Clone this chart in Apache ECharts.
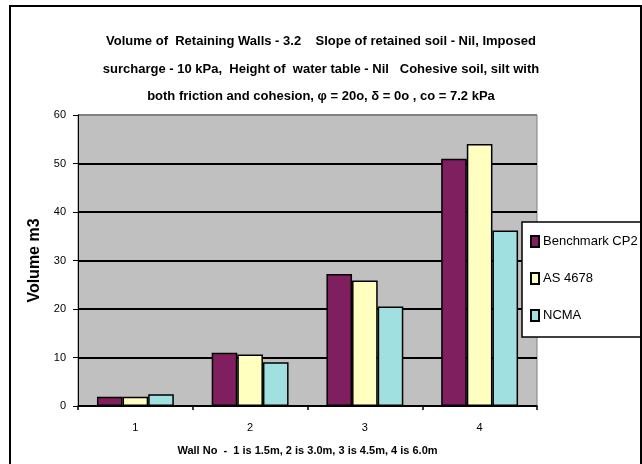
<!DOCTYPE html>
<html>
<head>
<meta charset="utf-8">
<script src="https://cdn.jsdelivr.net/npm/echarts@6/dist/echarts.min.js"></script>
<style>
html,body{margin:0;padding:0;background:#fff;}
#c{width:642px;height:464px;}
</style>
</head>
<body>
<div id="c"></div>
<script>
var categories = ['1', '2', '3', '4'];
var seriesNames = ['Benchmark CP2', 'AS 4678', 'NCMA'];
var benchmarkCP2 = [1.9, 11.0, 27.2, 51.0];
var as4678 = [1.9, 10.6, 25.9, 54.0];
var ncma = [2.4, 9.0, 20.5, 36.2];
var yTicks = { min: 0, max: 60, interval: 10 };
var titleText = 'Volume of  Retaining Walls - 3.2    Slope of retained soil - Nil, Imposed\nsurcharge - 10 kPa,  Height of  water table - Nil   Cohesive soil, silt with\nboth friction and cohesion, \u03c6 = 20o, \u03b4 = 0o , co = 7.2 kPa';
var xName = 'Wall No  -  1 is 1.5m, 2 is 3.0m, 3 is 4.5m, 4 is 6.0m';
var yName = 'Volume m3';

var font = '"Liberation Sans", Arial, sans-serif';
var colors = ['#7F1F5F', '#FFFFC0', '#A0E0E0'];
var seriesData = [benchmarkCP2, as4678, ncma];

var chart = echarts.init(document.getElementById('c'), null, {renderer: 'canvas'});
chart.setOption({
  animation: false,
  backgroundColor: '#fff',
  title: {
    text: titleText,
    left: 'center',
    top: 28,
    padding: 0,
    textStyle: {
      fontFamily: font,
      fontSize: 13,
      fontWeight: 'bold',
      color: '#000',
      lineHeight: 27.5
    }
  },
  graphic: [{
    type: 'rect',
    shape: {x: 10, y: 6, width: 631, height: 480},
    style: {fill: 'none', stroke: '#000', lineWidth: 2},
    z: 100
  }],
  legend: {
    orient: 'vertical',
    left: 522,
    top: 222,
    padding: [13, 8, 15, 8],
    itemGap: 24,
    itemWidth: 8,
    itemHeight: 11,
    icon: 'rect',
    backgroundColor: '#fff',
    borderColor: '#000',
    borderWidth: 1.5,
    textStyle: {fontFamily: font, fontSize: 13, color: '#000', padding: [0, 0, 0, -1]},
    data: seriesNames
  },
  grid: {
    left: 78, right: 105, top: 115, bottom: 58,
    show: true,
    backgroundColor: '#C0C0C0',
    borderWidth: 1,
    borderColor: '#808080'
  },
  xAxis: {
    type: 'category',
    data: categories,
    name: xName,
    nameLocation: 'middle',
    nameGap: 39,
    nameTextStyle: {fontFamily: font, fontSize: 11, fontWeight: 'bold', color: '#000'},
    axisLine: {lineStyle: {color: '#000', width: 1.5}},
    axisTick: {show: true, length: 4, alignWithLabel: false, lineStyle: {color: '#000', width: 1.5}},
    axisLabel: {fontFamily: font, fontSize: 11, color: '#000', margin: 16}
  },
  yAxis: {
    type: 'value',
    min: yTicks.min,
    max: yTicks.max,
    interval: yTicks.interval,
    name: yName,
    nameLocation: 'middle',
    nameGap: 27,
    nameTextStyle: {fontFamily: font, fontSize: 16, fontWeight: 'bold', color: '#000'},
    axisLine: {show: true, lineStyle: {color: '#000', width: 1}},
    axisTick: {show: true, length: 5, lineStyle: {color: '#000', width: 1}},
    axisLabel: {fontFamily: font, fontSize: 11, color: '#000', margin: 12},
    splitLine: {show: true, lineStyle: {color: ['#000', '#000', '#000', '#000', '#000', '#000', '#808080'], width: 2}}
  },
  series: seriesNames.map(function (n, i) {
    return {
      name: n,
      type: 'bar',
      data: seriesData[i],
      barGap: '0%',
      barCategoryGap: '33%',
      itemStyle: {color: colors[i], borderColor: '#000', borderWidth: 1.5}
    };
  })
});
</script>
</body>
</html>
